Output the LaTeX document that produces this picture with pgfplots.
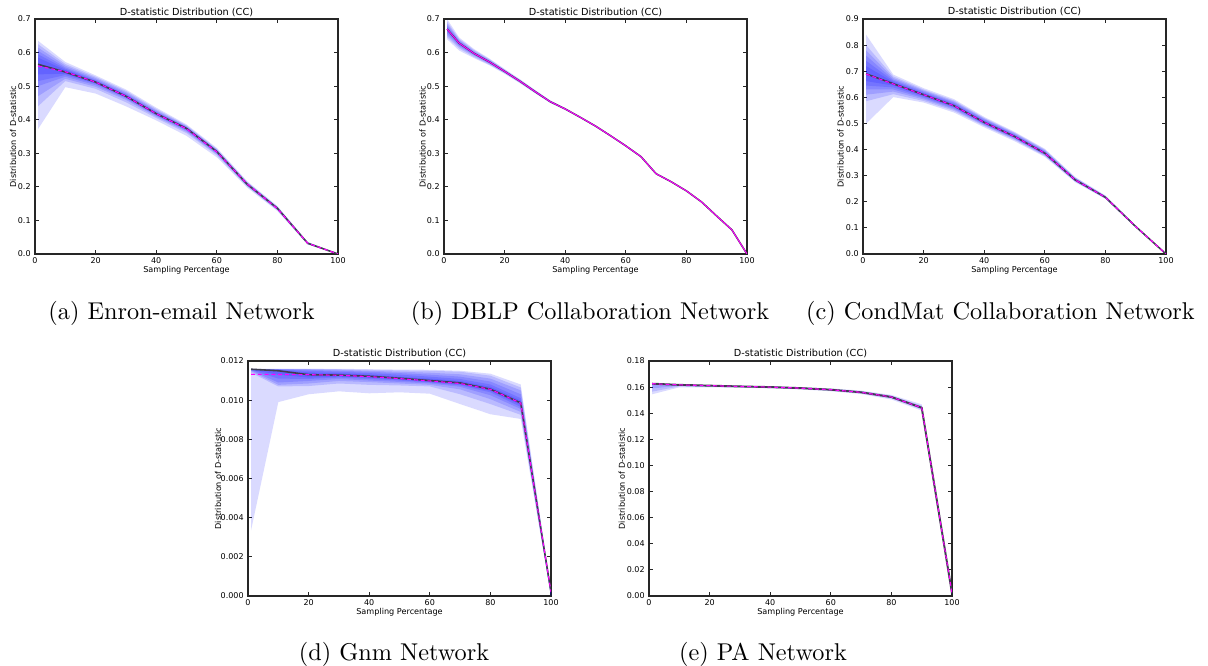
\documentclass[border=0pt]{standalone}
\usepackage{fontspec}
\usepackage{pgfplots}
\pgfplotsset{compat=1.18}
\newfontfamily\dejavu{DejaVu Sans}
\definecolor{mpmag}{RGB}{255,0,255}
\definecolor{medc}{RGB}{62,62,80}
\pgfplotsset{
  fan/.style={
    scale only axis, width=124.84pt, height=96.82pt,
    xmin=0, xmax=100, xtick={0,20,40,60,80,100},
    tick align=inside, major tick length=1.6pt,
    axis line style={line width=0.5pt, black!85},
    every tick/.style={black!85, line width=0.35pt},
    /pgf/number format/assume math mode=true,
    ticklabel style={font=\dejavu\fontsize{3.3}{4}\selectfont, inner sep=0pt},
    xticklabel style={anchor=north, yshift=-1.2pt},
    yticklabel style={anchor=east, xshift=-1.6pt},
    scaled ticks=false,
    every axis title shift=0pt,
    title={D-statistic Distribution (CC)},
    title style={font=\dejavu\fontsize{4}{5}\selectfont, at={(axis description cs:0.5,1.017)}, anchor=base, yshift=0pt, inner sep=0pt},
    xlabel={Sampling Percentage},
    ylabel={Distribution of D-statistic},
    xlabel style={font=\dejavu\fontsize{3.35}{4}\selectfont, at={(axis description cs:0.5,-0.070)}, anchor=center, inner sep=0pt},
    ylabel style={font=\dejavu\fontsize{3.35}{4}\selectfont, anchor=center, inner sep=0pt},
  },
  ylpos/.style={ylabel style={at={(axis description cs:-#1,0.5)}}},
  band/.style={draw=none, fill=blue, fill opacity=0.145, mark=none, forget plot},
  med/.style={medc, line width=0.65pt, mark=none},
  mean/.style={mpmag, line width=0.45pt, dash pattern=on 1.6pt off 1.2pt, mark=none},
}
\begin{document}
\begin{tikzpicture}
\path[use as bounding box] (0,0) rectangle (497.70pt,274.39pt);

% ---------------- (a) Enron-email ----------------
\begin{axis}[fan, ylpos=0.0726, at={(14.42pt,169.74pt)}, anchor=south west,
  ymin=0, ymax=0.7, ytick={0,0.1,0.2,0.3,0.4,0.5,0.6,0.7},
  yticklabels={0.0,0.1,0.2,0.3,0.4,0.5,0.6,0.7}]
\addplot[band] coordinates {(1,0.635)(10,0.572)(20,0.532)(30,0.490)(40,0.436)(50,0.386)(60,0.316)(70,0.217)(80,0.143)(90,0.036)(100,0.001)
 (100,0)(90,0.028)(80,0.128)(70,0.198)(60,0.288)(50,0.352)(40,0.398)(30,0.440)(20,0.478)(10,0.497)(1,0.372)};
\addplot[band] coordinates {(1,0.625)(10,0.566)(20,0.528)(30,0.486)(40,0.432)(50,0.383)(60,0.313)(70,0.215)(80,0.141)(90,0.035)(100,0.0005)
 (100,0)(90,0.029)(80,0.130)(70,0.201)(60,0.294)(50,0.360)(40,0.405)(30,0.452)(20,0.492)(10,0.515)(1,0.440)};
\addplot[band] coordinates {(1,0.615)(10,0.561)(20,0.524)(30,0.482)(40,0.428)(50,0.381)(60,0.311)(70,0.213)(80,0.140)(90,0.034)(100,0)
 (100,0)(90,0.030)(80,0.132)(70,0.203)(60,0.297)(50,0.364)(40,0.409)(30,0.459)(20,0.498)(10,0.522)(1,0.470)};
\addplot[band] coordinates {(1,0.605)(10,0.556)(20,0.520)(30,0.478)(40,0.425)(50,0.379)(60,0.309)(70,0.211)(80,0.139)(90,0.033)(100,0)
 (100,0)(90,0.031)(80,0.133)(70,0.205)(60,0.300)(50,0.367)(40,0.412)(30,0.463)(20,0.503)(10,0.528)(1,0.500)};
\addplot[band] coordinates {(1,0.595)(10,0.552)(20,0.517)(30,0.475)(40,0.422)(50,0.377)(60,0.307)(70,0.210)(80,0.138)(90,0.033)(100,0)
 (100,0)(90,0.031)(80,0.134)(70,0.206)(60,0.302)(50,0.370)(40,0.414)(30,0.466)(20,0.507)(10,0.533)(1,0.515)};
\addplot[band] coordinates {(1,0.585)(10,0.548)(20,0.515)(30,0.473)(40,0.420)(50,0.376)(60,0.306)(70,0.209)(80,0.137)(90,0.032)(100,0)
 (100,0)(90,0.031)(80,0.135)(70,0.207)(60,0.304)(50,0.372)(40,0.416)(30,0.467)(20,0.509)(10,0.537)(1,0.535)};
\addplot[med] coordinates {(1,0.565)(10,0.542)(20,0.512)(30,0.470)(40,0.418)(50,0.374)(60,0.305)(70,0.208)(80,0.136)(90,0.032)(100,0)};
\addplot[mean] coordinates {(1,0.560)(10,0.543)(20,0.512)(30,0.470)(40,0.418)(50,0.373)(60,0.304)(70,0.209)(80,0.135)(90,0.032)(100,0)};
\end{axis}

% ---------------- (b) DBLP ----------------
\begin{axis}[fan, ylpos=0.0703, at={(182.93pt,169.74pt)}, anchor=south west,
  ymin=0, ymax=0.7, ytick={0,0.1,0.2,0.3,0.4,0.5,0.6,0.7},
  yticklabels={0.0,0.1,0.2,0.3,0.4,0.5,0.6,0.7}]
\addplot[band] coordinates {(1,0.700)(5,0.645)(10,0.610)(15,0.582)(20,0.551)(25,0.521)(30,0.489)(35,0.458)(40,0.435)(45,0.409)(50,0.383)(55,0.354)(60,0.324)(65,0.292)(70,0.241)(75,0.217)(80,0.189)(85,0.156)(90,0.114)(95,0.073)(100,0.001)
 (100,0)(95,0.071)(90,0.112)(85,0.154)(80,0.187)(75,0.214)(70,0.237)(65,0.288)(60,0.320)(55,0.350)(50,0.379)(45,0.405)(40,0.429)(35,0.450)(30,0.479)(25,0.509)(20,0.537)(15,0.562)(10,0.583)(5,0.606)(1,0.640)};
\addplot[band] coordinates {(1,0.692)(5,0.641)(10,0.607)(15,0.580)(20,0.550)(25,0.520)(30,0.488)(35,0.457)(40,0.434)(45,0.408)(50,0.382)(55,0.353)(60,0.323)(65,0.291)(70,0.240)(75,0.216)(80,0.189)(85,0.156)(90,0.114)(95,0.073)(100,0)
 (100,0)(95,0.071)(90,0.112)(85,0.154)(80,0.187)(75,0.215)(70,0.238)(65,0.289)(60,0.321)(55,0.351)(50,0.380)(45,0.406)(40,0.430)(35,0.451)(30,0.480)(25,0.510)(20,0.538)(15,0.564)(10,0.586)(5,0.612)(1,0.646)};
\addplot[band] coordinates {(1,0.686)(5,0.638)(10,0.604)(15,0.578)(20,0.548)(25,0.518)(30,0.487)(35,0.456)(40,0.433)(45,0.408)(50,0.382)(55,0.353)(60,0.323)(65,0.291)(70,0.240)(75,0.216)(80,0.188)(85,0.155)(90,0.113)(95,0.072)(100,0)
 (100,0)(95,0.072)(90,0.113)(85,0.155)(80,0.188)(75,0.215)(70,0.238)(65,0.289)(60,0.321)(55,0.351)(50,0.380)(45,0.406)(40,0.431)(35,0.452)(30,0.481)(25,0.512)(20,0.540)(15,0.566)(10,0.590)(5,0.617)(1,0.652)};
\addplot[band] coordinates {(1,0.681)(5,0.635)(10,0.601)(15,0.576)(20,0.546)(25,0.517)(30,0.486)(35,0.456)(40,0.433)(45,0.408)(50,0.382)(55,0.353)(60,0.323)(65,0.291)(70,0.240)(75,0.216)(80,0.188)(85,0.155)(90,0.113)(95,0.072)(100,0)
 (100,0)(95,0.072)(90,0.113)(85,0.155)(80,0.188)(75,0.215)(70,0.238)(65,0.289)(60,0.321)(55,0.351)(50,0.380)(45,0.406)(40,0.431)(35,0.452)(30,0.482)(25,0.513)(20,0.541)(15,0.568)(10,0.592)(5,0.620)(1,0.658)};
\addplot[band] coordinates {(1,0.676)(5,0.632)(10,0.599)(15,0.574)(20,0.545)(25,0.516)(30,0.485)(35,0.455)(40,0.433)(45,0.407)(50,0.381)(55,0.352)(60,0.322)(65,0.290)(70,0.239)(75,0.215)(80,0.188)(85,0.155)(90,0.113)(95,0.072)(100,0)
 (100,0)(95,0.072)(90,0.113)(85,0.155)(80,0.188)(75,0.215)(70,0.239)(65,0.290)(60,0.322)(55,0.352)(50,0.381)(45,0.407)(40,0.431)(35,0.453)(30,0.483)(25,0.514)(20,0.543)(15,0.570)(10,0.595)(5,0.624)(1,0.664)};
\addplot[med] coordinates {(1,0.670)(5,0.628)(10,0.597)(15,0.572)(20,0.544)(25,0.515)(30,0.484)(35,0.454)(40,0.432)(45,0.407)(50,0.381)(55,0.352)(60,0.322)(65,0.290)(70,0.239)(75,0.215)(80,0.188)(85,0.155)(90,0.113)(95,0.072)(100,0)};
\addplot[mpmag, line width=0.4pt, mark=none] coordinates {(1,0.670)(5,0.628)(10,0.597)(15,0.572)(20,0.544)(25,0.515)(30,0.484)(35,0.454)(40,0.432)(45,0.407)(50,0.381)(55,0.352)(60,0.322)(65,0.290)(70,0.239)(75,0.215)(80,0.188)(85,0.155)(90,0.113)(95,0.072)(100,0)};
\end{axis}

% ---------------- (c) CondMat ----------------
\begin{axis}[fan, ylpos=0.0736, at={(355.56pt,169.74pt)}, anchor=south west,
  ymin=0, ymax=0.9, ytick={0,0.1,0.2,0.3,0.4,0.5,0.6,0.7,0.8,0.9},
  yticklabels={0.0,0.1,0.2,0.3,0.4,0.5,0.6,0.7,0.8,0.9}]
\addplot[band] coordinates {(1,0.840)(10,0.687)(20,0.635)(30,0.593)(40,0.525)(50,0.468)(60,0.403)(70,0.295)(80,0.224)(90,0.109)(100,0.001)
 (100,0)(90,0.101)(80,0.211)(70,0.275)(60,0.372)(50,0.432)(40,0.485)(30,0.542)(20,0.580)(10,0.601)(1,0.499)};
\addplot[band] coordinates {(1,0.800)(10,0.680)(20,0.630)(30,0.588)(40,0.521)(50,0.465)(60,0.400)(70,0.293)(80,0.223)(90,0.108)(100,0)
 (100,0)(90,0.102)(80,0.212)(70,0.277)(60,0.375)(50,0.437)(40,0.490)(30,0.548)(20,0.586)(10,0.612)(1,0.585)};
\addplot[band] coordinates {(1,0.780)(10,0.674)(20,0.626)(30,0.584)(40,0.518)(50,0.462)(60,0.397)(70,0.291)(80,0.221)(90,0.107)(100,0)
 (100,0)(90,0.103)(80,0.213)(70,0.279)(60,0.378)(50,0.440)(40,0.493)(30,0.553)(20,0.592)(10,0.622)(1,0.610)};
\addplot[band] coordinates {(1,0.760)(10,0.668)(20,0.622)(30,0.580)(40,0.515)(50,0.459)(60,0.394)(70,0.289)(80,0.220)(90,0.107)(100,0)
 (100,0)(90,0.103)(80,0.214)(70,0.280)(60,0.380)(50,0.443)(40,0.496)(30,0.557)(20,0.597)(10,0.630)(1,0.630)};
\addplot[band] coordinates {(1,0.740)(10,0.663)(20,0.618)(30,0.576)(40,0.511)(50,0.456)(60,0.391)(70,0.287)(80,0.219)(90,0.106)(100,0)
 (100,0)(90,0.104)(80,0.215)(70,0.281)(60,0.382)(50,0.446)(40,0.499)(30,0.561)(20,0.601)(10,0.638)(1,0.645)};
\addplot[band] coordinates {(1,0.720)(10,0.658)(20,0.614)(30,0.572)(40,0.507)(50,0.453)(60,0.388)(70,0.286)(80,0.218)(90,0.106)(100,0)
 (100,0)(90,0.104)(80,0.216)(70,0.282)(60,0.384)(50,0.448)(40,0.501)(30,0.565)(20,0.606)(10,0.645)(1,0.662)};
\addplot[med] coordinates {(1,0.690)(10,0.652)(20,0.610)(30,0.568)(40,0.504)(50,0.450)(60,0.386)(70,0.284)(80,0.217)(90,0.105)(100,0)};
\addplot[mean] coordinates {(1,0.689)(10,0.651)(20,0.610)(30,0.568)(40,0.504)(50,0.450)(60,0.386)(70,0.284)(80,0.217)(90,0.105)(100,0)};
\end{axis}

% ---------------- (d) Gnm ----------------
\begin{axis}[fan, ylpos=0.099, at={(102.18pt,28.84pt)}, anchor=south west,
  ymin=0, ymax=0.012, ytick={0,0.002,0.004,0.006,0.008,0.010,0.012},
  yticklabels={0.000,0.002,0.004,0.006,0.008,0.010,0.012}]
\addplot[band] coordinates {(1,0.01160)(10,0.01160)(20,0.01160)(30,0.01160)(40,0.01158)(50,0.01156)(60,0.01155)(70,0.01150)(80,0.01135)(90,0.01080)(100,0.0003)
 (100,0)(90,0.00904)(80,0.00928)(70,0.00980)(60,0.01033)(50,0.01040)(40,0.01035)(30,0.01045)(20,0.01030)(10,0.00990)(1,0.00335)};
\addplot[band] coordinates {(1,0.01160)(10,0.01160)(20,0.01160)(30,0.01158)(40,0.01155)(50,0.01152)(60,0.01150)(70,0.01145)(80,0.01125)(90,0.01065)(100,0.0002)
 (100,0)(90,0.00925)(80,0.00980)(70,0.01030)(60,0.01070)(50,0.01075)(40,0.01078)(30,0.01085)(20,0.01072)(10,0.01070)(1,0.01140)};
\addplot[band] coordinates {(1,0.01159)(10,0.01159)(20,0.01158)(30,0.01155)(40,0.01150)(50,0.01145)(60,0.01140)(70,0.01132)(80,0.01110)(90,0.01050)(100,0.0002)
 (100,0)(90,0.00940)(80,0.01005)(70,0.01055)(60,0.01078)(50,0.01085)(40,0.01092)(30,0.01098)(20,0.01085)(10,0.01078)(1,0.01148)};
\addplot[band] coordinates {(1,0.01158)(10,0.01158)(20,0.01155)(30,0.01150)(40,0.01145)(50,0.01138)(60,0.01130)(70,0.01120)(80,0.01095)(90,0.01030)(100,0.0002)
 (100,0)(90,0.00955)(80,0.01025)(70,0.01068)(60,0.01085)(50,0.01093)(40,0.01100)(30,0.01108)(20,0.01098)(10,0.01090)(1,0.01152)};
\addplot[band] coordinates {(1,0.01158)(10,0.01156)(20,0.01150)(30,0.01145)(40,0.01138)(50,0.01130)(60,0.01120)(70,0.01108)(80,0.01080)(90,0.01010)(100,0.0002)
 (100,0)(90,0.00965)(80,0.01040)(70,0.01075)(60,0.01090)(50,0.01100)(40,0.01108)(30,0.01115)(20,0.01108)(10,0.01110)(1,0.01154)};
\addplot[band] coordinates {(1,0.01157)(10,0.01153)(20,0.01142)(30,0.01138)(40,0.01130)(50,0.01120)(60,0.01110)(70,0.01098)(80,0.01068)(90,0.00998)(100,0.0002)
 (100,0)(90,0.00975)(80,0.01048)(70,0.01080)(60,0.01093)(50,0.01105)(40,0.01114)(30,0.01120)(20,0.01115)(10,0.01130)(1,0.01155)};
\addplot[med] coordinates {(1,0.01158)(10,0.01150)(20,0.01130)(30,0.01128)(40,0.01122)(50,0.01112)(60,0.01100)(70,0.01088)(80,0.01056)(90,0.00986)(100,0.0002)};
\addplot[mean] coordinates {(1,0.01132)(10,0.01131)(20,0.01130)(30,0.01127)(40,0.01120)(50,0.01110)(60,0.01098)(70,0.01085)(80,0.01055)(90,0.00985)(100,0.0002)};
\end{axis}

% ---------------- (e) PA ----------------
\begin{axis}[fan, ylpos=0.090, at={(267.39pt,28.84pt)}, anchor=south west,
  ymin=0, ymax=0.18, ytick={0,0.02,0.04,0.06,0.08,0.10,0.12,0.14,0.16,0.18},
  yticklabels={0.00,0.02,0.04,0.06,0.08,0.10,0.12,0.14,0.16,0.18}]
\addplot[band] coordinates {(1,0.1630)(10,0.1622)(20,0.1617)(30,0.1611)(40,0.1606)(50,0.1600)(60,0.1590)(70,0.1573)(80,0.1540)(90,0.1468)(100,0.003)
 (100,0.001)(90,0.1420)(80,0.1505)(70,0.1547)(60,0.1568)(50,0.1582)(40,0.1590)(30,0.1595)(20,0.1598)(10,0.1598)(1,0.1545)};
\addplot[band] coordinates {(1,0.1628)(10,0.1620)(20,0.1615)(30,0.1609)(40,0.1604)(50,0.1597)(60,0.1586)(70,0.1568)(80,0.1534)(90,0.1458)(100,0.003)
 (100,0.001)(90,0.1428)(80,0.1513)(70,0.1552)(60,0.1573)(50,0.1586)(40,0.1594)(30,0.1599)(20,0.1603)(10,0.1605)(1,0.1565)};
\addplot[band] coordinates {(1,0.1627)(10,0.1619)(20,0.1613)(30,0.1607)(40,0.1602)(50,0.1594)(60,0.1583)(70,0.1564)(80,0.1529)(90,0.1450)(100,0.003)
 (100,0.001)(90,0.1434)(80,0.1519)(70,0.1556)(60,0.1577)(50,0.1589)(40,0.1597)(30,0.1602)(20,0.1607)(10,0.1610)(1,0.1590)};
\addplot[med, line width=0.8pt] coordinates {(1,0.1626)(10,0.1617)(20,0.1611)(30,0.1605)(40,0.1600)(50,0.1592)(60,0.1580)(70,0.1560)(80,0.1524)(90,0.1442)(100,0.002)};
\addplot[mean] coordinates {(1,0.1626)(10,0.1617)(20,0.1611)(30,0.1605)(40,0.1600)(50,0.1592)(60,0.1580)(70,0.1560)(80,0.1524)(90,0.1442)(100,0.002)};
\end{axis}

% captions
\node[anchor=base] at (74.78pt,142.55pt) {(a) Enron-email Network};
\node[anchor=base] at (243.08pt,142.55pt) {(b) DBLP Collaboration Network};
\node[anchor=base] at (412.20pt,142.55pt) {(c) CondMat Collaboration Network};
\node[anchor=base] at (162.33pt,2.06pt) {(d) Gnm Network};
\node[anchor=base] at (314.36pt,2.06pt) {(e) PA Network};
\end{tikzpicture}
\end{document}
